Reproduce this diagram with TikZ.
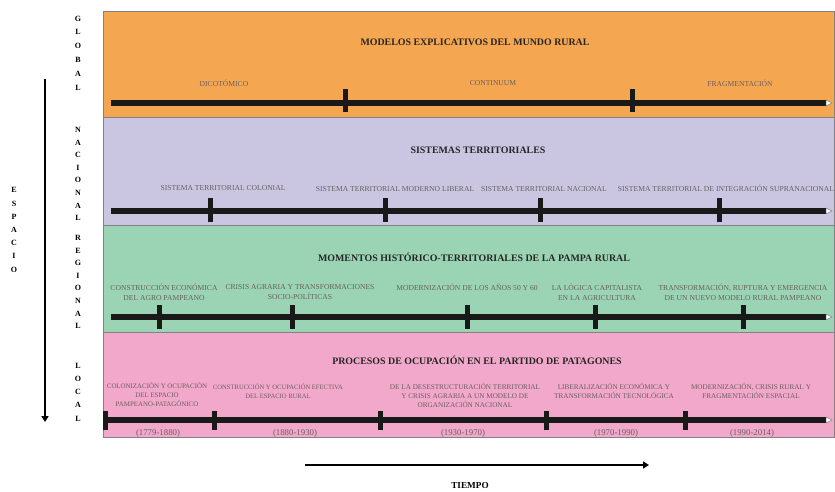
\documentclass[tikz,border=0pt]{standalone}
\usepackage{fontspec}
\setmainfont{Liberation Serif}
\usetikzlibrary{arrows.meta}
\definecolor{bandA}{RGB}{245,166,80}
\definecolor{bandB}{RGB}{202,198,226}
\definecolor{bandC}{RGB}{154,212,180}
\definecolor{bandD}{RGB}{242,168,203}
\definecolor{labgray}{RGB}{105,95,95}
\definecolor{bordergray}{RGB}{130,130,130}
\begin{document}
\begin{tikzpicture}[x=1pt,y=-1pt,
  band/.style={draw=bordergray, line width=1pt},
  tline/.style={line width=5.5pt, black!90},
  tickmark/.style={line width=5pt, black!90},
  lab/.style={font=\fontsize{7.6}{9.8}\selectfont, text=labgray, align=center, inner sep=0pt},
  labd/.style={font=\fontsize{7.2}{9}\selectfont, text=labgray, align=center, inner sep=0pt},
  datelab/.style={font=\fontsize{8.8}{10}\selectfont, text=labgray, inner sep=0pt},
  ttl/.style={font=\bfseries\fontsize{9.9}{11}\selectfont, text=black!85, inner sep=0pt},
  side/.style={align=center, inner sep=0pt},
  endtip/.style={draw=gray, fill=white, line width=0.5pt}
]
\useasboundingbox (0,0) rectangle (835,491);
\fill[white] (0,0) rectangle (835,491);

% bands
\filldraw[band, fill=bandA] (103,11) rectangle (834,117);
\filldraw[band, fill=bandB] (103,117) rectangle (834,225);
\filldraw[band, fill=bandC] (103,225) rectangle (834,332);
\filldraw[band, fill=bandD] (103,332) rectangle (834,437);

% titles
\node[ttl] (t1) at (475,42) {MODELOS EXPLICATIVOS DEL MUNDO RURAL};
\node[ttl] (t2) at (478,150) {SISTEMAS TERRITORIALES};
\node[ttl] (t3) at (474,257) {MOMENTOS HISTÓRICO-TERRITORIALES DE LA PAMPA RURAL};
\node[ttl] (t4) at (477,360) {PROCESOS DE OCUPACIÓN EN EL PARTIDO DE PATAGONES};

% timeline 1
\coordinate (a1) at (111,103);
\coordinate (b1) at (826,103);
\draw[tline] (a1) -- (b1);
\draw[endtip] (826,100) -- (832,103) -- (826,106) -- cycle;
\foreach \x in {345,632} \draw[tickmark] (\x,89) -- (\x,112);
\node[lab] (l11) at (224,83) {DICOTÓMICO};
\node[lab] (l12) at (493,83) {CONTINUUM};
\node[lab] (l13) at (740,83) {FRAGMENTACIÓN};

% timeline 2
\coordinate (a2) at (111,211);
\coordinate (b2) at (826,211);
\draw[tline] (a2) -- (b2);
\draw[endtip] (826,208) -- (832,211) -- (826,214) -- cycle;
\foreach \x in {210,385,540,719} \draw[tickmark] (\x,198) -- (\x,222);
\node[lab] (l21) at (223,188) {SISTEMA TERRITORIAL COLONIAL};
\node[lab] (l22) at (395,189) {SISTEMA TERRITORIAL MODERNO LIBERAL};
\node[lab] (l23) at (544,189) {SISTEMA TERRITORIAL NACIONAL};
\node[lab] (l24) at (726,188) {SISTEMA TERRITORIAL DE INTEGRACIÓN SUPRANACIONAL};

% timeline 3
\coordinate (a3) at (111,317);
\coordinate (b3) at (826,317);
\draw[tline] (a3) -- (b3);
\draw[endtip] (826,314) -- (832,317) -- (826,320) -- cycle;
\foreach \x in {159,292,467,595,743} \draw[tickmark] (\x,305) -- (\x,329);
\node[lab] (l31) at (164,292) {CONSTRUCCIÓN ECONÓMICA\\DEL AGRO PAMPEANO};
\node[lab] (l32) at (300,292) {CRISIS AGRARIA Y TRANSFORMACIONES\\SOCIO-POLÍTICAS};
\node[lab] (l33) at (467,287) {MODERNIZACIÓN DE LOS AÑOS 50 Y 60};
\node[lab] (l34) at (597,292) {LA LÓGICA CAPITALISTA\\EN LA AGRICULTURA};
\node[lab] (l35) at (743,292) {TRANSFORMACIÓN, RUPTURA Y EMERGENCIA\\DE UN NUEVO MODELO RURAL PAMPEANO};

% timeline 4
\coordinate (a4) at (105,420);
\coordinate (b4) at (826,420);
\draw[tline] (a4) -- (b4);
\draw[endtip] (826,417) -- (832,420) -- (826,423) -- cycle;
\foreach \x in {105,214,380,546,685} \draw[tickmark] (\x,411) -- (\x,430);
\node[labd, font=\fontsize{6.9}{9}\selectfont] (l41) at (157,395) {COLONIZACIÓN Y OCUPACIÓN\\DEL ESPACIO\\PAMPEANO-PATAGÓNICO};
\node[labd, font=\fontsize{6.6}{9}\selectfont] (l42) at (278,391) {CONSTRUCCIÓN Y OCUPACIÓN EFECTIVA\\DEL ESPACIO RURAL};
\node[labd] (l43) at (465,395) {DE LA DESESTRUCTURACIÓN TERRITORIAL\\Y CRISIS AGRARIA A UN MODELO DE\\ORGANIZACIÓN NACIONAL};
\node[labd] (l44) at (614,391) {LIBERALIZACIÓN ECONÓMICA Y\\TRANSFORMACIÓN TECNOLÓGICA};
\node[labd] (l45) at (751,391) {MODERNIZACIÓN, CRISIS RURAL Y\\FRAGMENTACIÓN ESPACIAL};
\node[datelab] (d1) at (158,433) {(1779-1880)};
\node[datelab] (d2) at (295,433) {(1880-1930)};
\node[datelab] (d3) at (463,433) {(1930-1970)};
\node[datelab] (d4) at (616,433) {(1970-1990)};
\node[datelab] (d5) at (752,433) {(1990-2014)};

% left scale labels
\node[side, font=\bfseries\fontsize{8}{13.8}\selectfont] (global) at (78,53) {G\\L\\O\\B\\A\\L};
\node[side, font=\bfseries\fontsize{8}{12.6}\selectfont] (nacional) at (78,174) {N\\A\\C\\I\\O\\N\\A\\L};
\node[side, font=\bfseries\fontsize{8}{12.6}\selectfont] (regional) at (78,282) {R\\E\\G\\I\\O\\N\\A\\L};
\node[side, font=\bfseries\fontsize{8}{13.2}\selectfont] (local) at (78,392) {L\\O\\C\\A\\L};
\node[side, font=\bfseries\fontsize{8}{13.2}\selectfont] (espacio) at (14,230) {E\\S\\P\\A\\C\\I\\O};

% space arrow
\coordinate (s1) at (45,79);
\coordinate (s2) at (45,422);
\draw[line width=2.6pt, -{Triangle[length=6pt,width=7pt]}] (s1) -- (s2);

% time arrow
\coordinate (tA) at (305,465);
\coordinate (tB) at (649,465);
\draw[line width=2.6pt, -{Triangle[length=6pt,width=7pt]}] (tA) -- (tB);
\node[font=\bfseries\fontsize{9.2}{10}\selectfont, inner sep=0pt] (tiempo) at (470,485) {TIEMPO};
\end{tikzpicture}
\end{document}
